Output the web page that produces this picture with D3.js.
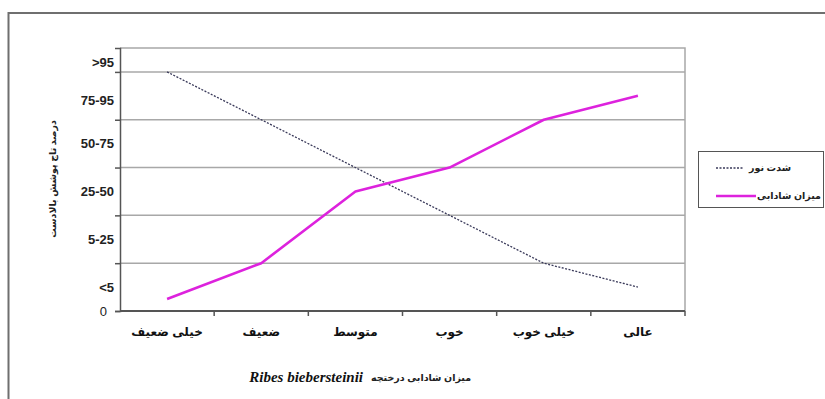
<!DOCTYPE html>
<html>
<head>
<meta charset="utf-8">
<script src="https://cdn.jsdelivr.net/npm/d3@7"></script>
<style>
  html, body { margin: 0; padding: 0; background: #fff; }
  svg { display: block; }
</style>
</head>
<body>
<svg id="chart" width="825" height="399"></svg>
<script>
// ---- data ----
const categories = ["خیلی ضعیف", "ضعیف", "متوسط", "خوب", "خیلی خوب", "عالی"];
const lightIntensity = [5, 4, 3, 2, 1, 0.5];      // شدت نور
const vitality = [0.25, 1, 2.5, 3, 4, 4.5];        // میزان شادابی
const yTickLabels = ["0", "<5", "5-25", "25-50", "50-75", "75-95", ">95"];
const yTickLabelValues = [0, 0.5, 1.5, 2.5, 3.5, 4.4, 5.2];
const yGridValues = [0, 1, 2, 3, 4, 5];
const seriesNames = ["شدت نور", "میزان شادابی"];
const yTitle = "درصد تاج پوشش بالادست";
const xTitleFa = "میزان شادابی درختچه";
const xTitleLatin = "Ribes biebersteinii";

// ---- layout ----
const svg = d3.select("#chart");
const plotL = 120, plotR = 685, plotT = 48, plotB = 311;
const font = "Arial, 'Liberation Sans', 'DejaVu Sans', sans-serif";

const x = d3.scaleBand().domain(categories).range([plotL, plotR]).padding(0);
const y = d3.scaleLinear().domain([0, 5.5]).range([plotB, plotT]);

// outer frame
svg.append("rect").attr("x", 8.5).attr("y", 13).attr("width", 900).attr("height", 500)
  .attr("fill", "none").attr("stroke", "#6f6f6f").attr("stroke-width", 2);

// plot frame (top & right)
svg.append("path")
  .attr("d", `M${plotL},${plotT}H${plotR}V${plotB}`)
  .attr("fill", "none").attr("stroke", "#a8a8a8").attr("stroke-width", 1.5);

// gridlines
svg.append("g").selectAll("line").data(yGridValues.filter(d => d > 0)).join("line")
  .attr("x1", plotL).attr("x2", plotR)
  .attr("y1", d => y(d)).attr("y2", d => y(d))
  .attr("stroke", "#a8a8a8").attr("stroke-width", 1.5);

// y axis (ticks only, labels separate)
const yAxis = d3.axisLeft(y).tickValues(yGridValues).tickSize(5).tickFormat("");
svg.append("g").attr("transform", `translate(${plotL},0)`).call(yAxis)
  .call(g => g.select(".domain").attr("stroke", "#555").attr("stroke-width", 1.5))
  .call(g => g.selectAll(".tick line").attr("stroke", "#555").attr("stroke-width", 1.5));

// y tick labels
svg.append("g").selectAll("text").data(yTickLabels).join("text")
  .attr("x", d => d === "0" ? 107 : 114)
  .attr("y", (d, i) => y(yTickLabelValues[i]))
  .attr("dy", "0.35em")
  .attr("text-anchor", "end")
  .attr("font-family", font).attr("font-size", 13)
  .attr("font-weight", d => d === "0" ? "normal" : "bold")
  .attr("fill", "#222")
  .text(d => d);

// x axis
const xBoundaries = d3.scaleLinear().domain([0, categories.length]).range([plotL, plotR]);
svg.append("line").attr("x1", plotL).attr("x2", plotR).attr("y1", plotB).attr("y2", plotB)
  .attr("stroke", "#555").attr("stroke-width", 2);
svg.append("g").selectAll("line").data(d3.range(1, categories.length + 1)).join("line")
  .attr("x1", d => xBoundaries(d)).attr("x2", d => xBoundaries(d))
  .attr("y1", plotB).attr("y2", plotB + 5)
  .attr("stroke", "#555").attr("stroke-width", 1.5);

svg.append("g").selectAll("text").data(categories).join("text")
  .attr("x", d => x(d) + x.bandwidth() / 2)
  .attr("y", 336)
  .attr("text-anchor", "middle")
  .attr("font-family", font).attr("font-size", 12).attr("font-weight", "bold")
  .attr("fill", "#111")
  .text(d => d);

// series
const cx = d => x(d) + x.bandwidth() / 2;
const line = d3.line().x(d => cx(d[0])).y(d => y(d[1]));

svg.append("path")
  .datum(categories.map((c, i) => [c, lightIntensity[i]]))
  .attr("d", line).attr("fill", "none")
  .attr("stroke", "#3a3a5a").attr("stroke-width", 1.3)
  .attr("stroke-dasharray", "2,1.5");

svg.append("path")
  .datum(categories.map((c, i) => [c, vitality[i]]))
  .attr("d", line).attr("fill", "none")
  .attr("stroke", "#dd22dd").attr("stroke-width", 2.6)
  .attr("stroke-linejoin", "round");

// y title
svg.append("text")
  .attr("transform", "translate(56,179) rotate(-90)")
  .attr("text-anchor", "middle")
  .attr("font-family", font).attr("font-size", 9.5).attr("font-weight", "bold")
  .attr("fill", "#222")
  .text(yTitle);

// x title
svg.append("text")
  .attr("x", 363).attr("y", 382).attr("text-anchor", "end")
  .attr("font-family", "'Liberation Serif', 'Times New Roman', serif")
  .attr("font-size", 15).attr("font-weight", "bold").attr("font-style", "italic")
  .attr("fill", "#111")
  .text(xTitleLatin);
svg.append("text")
  .attr("x", 421).attr("y", 381).attr("text-anchor", "middle")
  .attr("font-family", font).attr("font-size", 9.5).attr("font-weight", "bold")
  .attr("fill", "#222")
  .text(xTitleFa);

// legend
const lg = svg.append("g");
lg.append("rect").attr("x", 698.5).attr("y", 151.5).attr("width", 125).attr("height", 56)
  .attr("fill", "#fff").attr("stroke", "#555").attr("stroke-width", 1);
const legendRows = [
  { name: seriesNames[0], stroke: "#3a3a5a", width: 1.3, dash: "2,1.5", y: 168, x2: 744, tx: 770 },
  { name: seriesNames[1], stroke: "#dd22dd", width: 2.6, dash: null, y: 196, x2: 756, tx: 789 }
];
legendRows.forEach(r => {
  lg.append("line").attr("x1", 716).attr("x2", r.x2).attr("y1", r.y).attr("y2", r.y)
    .attr("stroke", r.stroke).attr("stroke-width", r.width)
    .attr("stroke-dasharray", r.dash);
  lg.append("text").attr("x", r.tx).attr("y", r.y).attr("dy", "0.35em")
    .attr("text-anchor", "middle")
    .attr("font-family", font).attr("font-size", 9.5).attr("font-weight", "bold")
    .attr("fill", "#222")
    .text(r.name);
});
</script>
</body>
</html>
